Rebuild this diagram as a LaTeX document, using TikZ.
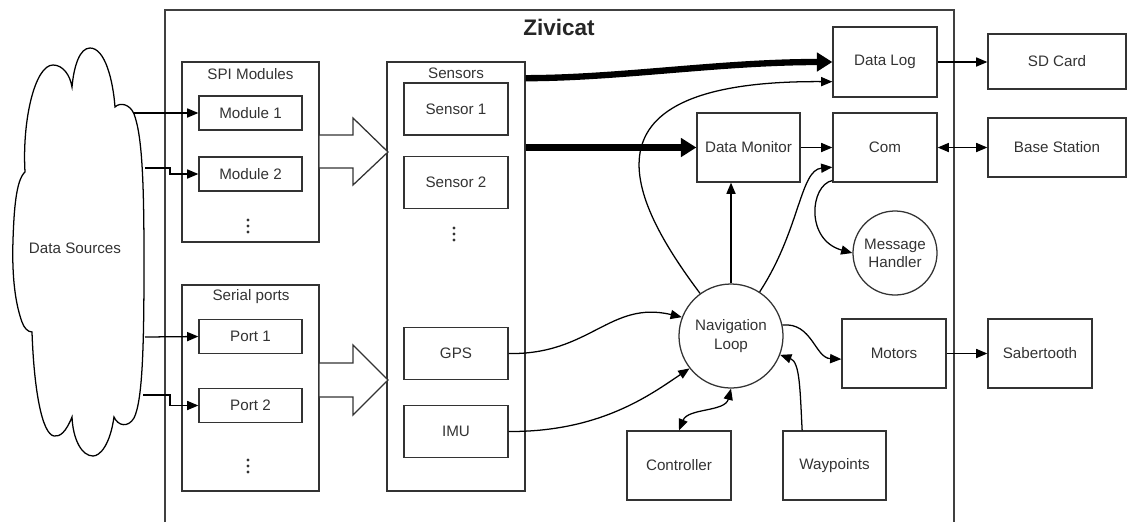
\documentclass[tikz,border=0pt]{standalone}
\usepackage{fontspec}
\setmainfont{Liberation Sans}
\usetikzlibrary{arrows.meta}

\begin{document}
\begin{tikzpicture}[x=0.025cm, y=-0.025cm,
  box/.style={draw=black!80, line width=0.9pt, minimum width=2.6cm, minimum height=1.725cm,
    inner sep=0pt, align=center, text=black!80, font=\fontsize{10.8}{13}\selectfont},
  hub/.style={box, circle, minimum size=2.6cm},
  lbl/.style={text=black!80, font=\fontsize{10.8}{13}\selectfont, inner sep=0pt},
  zone/.style={draw=black!75, line width=0.8pt},
  link/.style={line width=0.9pt, -{Triangle[length=8pt,width=6.5pt]}},
  twoway/.style={line width=0.9pt, {Triangle[length=8pt,width=6.5pt]}-{Triangle[length=8pt,width=6.5pt]}},
  fat/.style={line width=4.5pt, -{Triangle[length=11pt,width=13pt]}},
  hollow/.style={draw=black!80, line width=0.9pt, fill=white},
  more/.style={fill=black!80}]
  \useasboundingbox (0,0) rectangle (1131,522);

  % ---- outer frame ----
  \draw[zone] (165,522) -- (165,10) -- (954,10) -- (954,522);
  \node[font=\bfseries\fontsize{16}{19}\selectfont, text=black!85] (title) at (559,27) {Zivicat};

  % ---- data sources cloud ----
  \draw[line width=0.9pt, fill=white] (25,172) .. controls (22,120) and (35,65) .. (53,65)
    .. controls (63,65) and (70,75) .. (72,87)
    .. controls (74,65) and (80,48) .. (90,48)
    .. controls (105,48) and (113,80) .. (115,107)
    .. controls (120,102) and (130,104) .. (134,114)
    .. controls (142,135) and (144,180) .. (144,260)
    .. controls (144,340) and (143,400) .. (134,418)
    .. controls (128,428) and (118,426) .. (114,417)
    .. controls (110,445) and (100,456) .. (93,456)
    .. controls (82,456) and (73,440) .. (72,417)
    .. controls (66,432) and (60,437) .. (54,436)
    .. controls (42,434) and (34,390) .. (32,332)
    .. controls (28,332) and (24,328) .. (22,322)
    .. controls (14,300) and (12,270) .. (13,240)
    .. controls (14,210) and (16,180) .. (25,172) -- cycle;
  \node[lbl] (sources) at (75,248) {Data Sources};
  \coordinate (src1) at (133,113);
  \coordinate (src2) at (145,168);
  \coordinate (src3) at (145,337);
  \coordinate (src4) at (143,395);

  % ---- SPI modules ----
  \node[box, minimum width=3.425cm, minimum height=4.5cm] (spi) at (250.5,152) {};
  \node[lbl] (spititle) at (250.5,74) {SPI Modules};
  \node[box, minimum width=2.575cm, minimum height=0.85cm] (mod1) at (250.5,113) {Module 1};
  \node[box, minimum width=2.575cm, minimum height=0.85cm] (mod2) at (250.5,174) {Module 2};
  \fill[more] (248,220) circle (1.6) ++(0,6) circle (1.6) ++(0,6) circle (1.6);

  % ---- serial ports ----
  \node[box, minimum width=3.425cm, minimum height=5.15cm] (serial) at (250.5,388) {};
  \node[lbl] (serialtitle) at (251,297) {Serial ports};
  \node[box, minimum width=2.575cm, minimum height=0.85cm] (port1) at (250.5,336.5) {Port 1};
  \node[box, minimum width=2.575cm, minimum height=0.85cm] (port2) at (250.5,405.5) {Port 2};
  \fill[more] (248,460) circle (1.6) ++(0,6) circle (1.6) ++(0,6) circle (1.6);

  \draw[link] (src1) -- (mod1.west);
  \draw[link] (src2) -- (170,168) |- (mod2.west);
  \draw[link] (src3) -- (port1.west);
  \draw[link] (src4) -- (170,395) |- (port2.west);

  % ---- sensors ----
  \node[box, minimum width=3.45cm, minimum height=10.725cm] (sensors) at (456,276.5) {};
  \node[lbl] (sensorstitle) at (456,73) {Sensors};
  \node[box, minimum height=1.3cm] (sens1) at (456,109) {Sensor 1};
  \node[box, minimum height=1.3cm] (sens2) at (456,182.5) {Sensor 2};
  \fill[more] (454,228) circle (1.6) ++(0,6) circle (1.6) ++(0,6) circle (1.6);
  \node[box, minimum height=1.3cm] (gps) at (456,353.5) {GPS};
  \node[box, minimum height=1.3cm] (imu) at (456,431.5) {IMU};

  \draw[hollow] (319,135) -- (353,135) -- (353,118) -- (388,152) -- (353,185) -- (353,168) -- (319,168) -- cycle;
  \draw[hollow] (319,363) -- (353,363) -- (353,345) -- (388,380) -- (353,415) -- (353,397) -- (319,397) -- cycle;

  % ---- processing ----
  \node[box, minimum height=1.75cm] (datalog) at (885,62) {Data Log};
  \node[box, minimum width=2.575cm] (monitor) at (748.5,147.5) {Data Monitor};
  \node[box] (com) at (885,147.5) {Com};
  \node[hub, minimum size=2.1cm] (msg) at (895,253) {Message\\Handler};
  \node[hub] (nav) at (731,336) {Navigation\\Loop};
  \node[box] (motors) at (894,353.5) {Motors};
  \node[box] (ctrl) at (679,465.5) {Controller};
  \node[box, minimum width=2.575cm] (wayp) at (834.5,465.5) {Waypoints};

  % ---- outside ----
  \node[box, minimum width=3.45cm, minimum height=1.375cm] (sdcard) at (1057,61.5) {SD Card};
  \node[box, minimum width=3.45cm, minimum height=1.475cm] (base) at (1057,147.5) {Base Station};
  \node[box] (saber) at (1040,353.5) {Sabertooth};

  % ---- connections ----
  \draw[fat] ([yshift=-12pt]sensors.north east) .. controls (620,78) and (720,62) .. (datalog.west);
  \draw[fat] (sensors.east |- monitor.west) -- (monitor.west);
  \draw[link] (datalog.east) -- (datalog.east -| sdcard.west);
  \draw[link] (monitor) -- (com);
  \draw[twoway] (com) -- (base);
  \draw[link] (motors) -- (saber);
  \draw[link] (nav.north) -- (nav.north |- monitor.south);
  \draw[link] (nav.126) .. controls (630,200) and (570,80) .. ([yshift=-14pt]datalog.west);
  \draw[link] (nav.57) .. controls (800,230) and (800,170) .. ([yshift=-14pt]com.west);
  \draw[link] ([yshift=1.5pt]com.south west) .. controls (810,185) and (805,240) .. (msg.west);
  \draw[link] (gps.east) .. controls (590,355) and (610,300) .. (nav.159);
  \draw[link] (imu.east) .. controls (600,432) and (650,395) .. (nav.218);
  \draw[twoway] (ctrl.north) .. controls (688,408) and (725,412) .. (nav.south);
  \draw[link] ([xshift=-23pt]wayp.north) .. controls (800,390) and (800,362) .. (nav.339);
  \draw[link] (nav.12) .. controls (812,322) and (815,358) .. ([yshift=-4pt]motors.west);
\end{tikzpicture}
\end{document}
